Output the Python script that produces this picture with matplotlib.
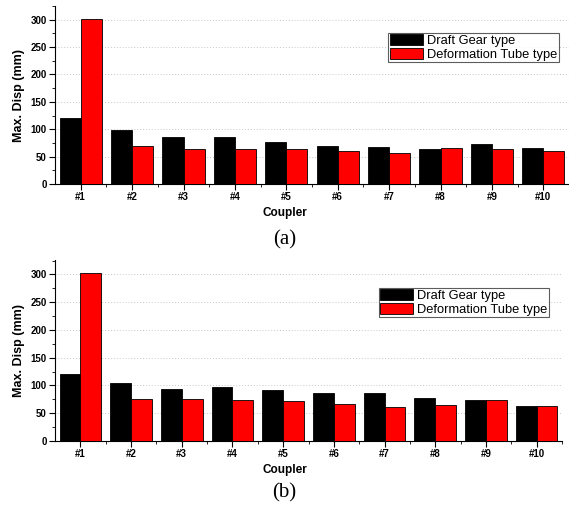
import numpy as np
import matplotlib
matplotlib.use('Agg')
import matplotlib.pyplot as plt
from matplotlib.ticker import MultipleLocator, FixedLocator

couplers = ['#1', '#2', '#3', '#4', '#5', '#6', '#7', '#8', '#9', '#10']

# (a)
draft_a = [120, 99, 85, 86, 77, 70, 67, 64, 73, 65]
tube_a = [302, 70, 64, 64, 63, 60, 57, 65, 64, 61]

# (b)
draft_b = [121, 104, 93, 98, 92, 87, 87, 77, 74, 63]
tube_b = [302, 75, 75, 73, 72, 66, 61, 64, 73, 63]

plt.rcParams['font.family'] = ['Liberation Sans', 'DejaVu Sans']

fig = plt.figure(figsize=(5.69, 5.11), dpi=100)

W, H = 569, 511


def draw_panel(rect, draft, tube, ylim_top, leg_anchor, tag, tag_y, xlabel_y):
    ax = fig.add_axes(rect)
    x = np.arange(len(couplers))
    w = 0.41
    ax.bar(x - w / 2, draft, w, color='black', edgecolor='black', linewidth=0.6,
           label='Draft Gear type', zorder=3)
    ax.bar(x + w / 2, tube, w, color='#ff0000', edgecolor='black', linewidth=0.6,
           label='Deformation Tube type', zorder=3)

    ax.set_xlim(-0.5, len(couplers) - 0.5)
    ax.set_ylim(0, ylim_top)
    ax.set_xticks(x)
    ax.set_xticklabels(couplers, fontsize=7, fontweight='bold')
    ax.xaxis.set_minor_locator(FixedLocator(x + 0.5))
    ax.yaxis.set_major_locator(MultipleLocator(50))
    ax.yaxis.set_minor_locator(MultipleLocator(25))
    ax.tick_params(axis='y', labelsize=7, width=0.8, length=4, pad=2)
    ax.tick_params(axis='x', width=0.8, length=4, pad=2)
    ax.tick_params(which='minor', length=2, width=0.6)
    for lbl in ax.get_yticklabels():
        lbl.set_fontweight('bold')

    for s in ['top', 'right']:
        ax.spines[s].set_visible(False)
    ax.spines['left'].set_linewidth(0.8)
    ax.spines['bottom'].set_linewidth(0.8)

    ax.yaxis.grid(True, linestyle=(0, (1, 2)), color='#c8c8c8', linewidth=0.7, zorder=0)
    ax.set_axisbelow(True)

    ax.set_ylabel('Max. Disp (mm)', fontsize=9, fontweight='bold', labelpad=4)

    leg = ax.legend(loc='upper right', bbox_to_anchor=leg_anchor, fontsize=9.3,
                    frameon=True, fancybox=False, shadow=False, borderpad=0.1,
                    labelspacing=0.05, handlelength=2.6, handleheight=0.9,
                    handletextpad=0.3, borderaxespad=0)
    leg.get_frame().set_edgecolor('#333333')
    leg.get_frame().set_linewidth(0.8)

    fig.text(0.5, 1 - xlabel_y / H, 'Coupler', ha='center', va='center',
             fontsize=8.5, fontweight='bold')
    fig.text(0.5, 1 - tag_y / H, tag, ha='center', va='center',
             fontsize=15, family='Liberation Serif')
    return ax


# panel (a): axes 55..569 px wide, 6..184 px tall
draw_panel([55 / W, 1 - 184 / H, 514 / W, 178 / H], draft_a, tube_a, 325,
           (0.98, 0.848), '(a)', 240, 213)

# panel (b): axes 55..562 px wide, 260..441 px tall
draw_panel([55 / W, 1 - 441 / H, 507 / W, 181 / H], draft_b, tube_b, 326,
           (0.974, 0.845), '(b)', 493, 470)

fig.savefig('out.png', dpi=100)
